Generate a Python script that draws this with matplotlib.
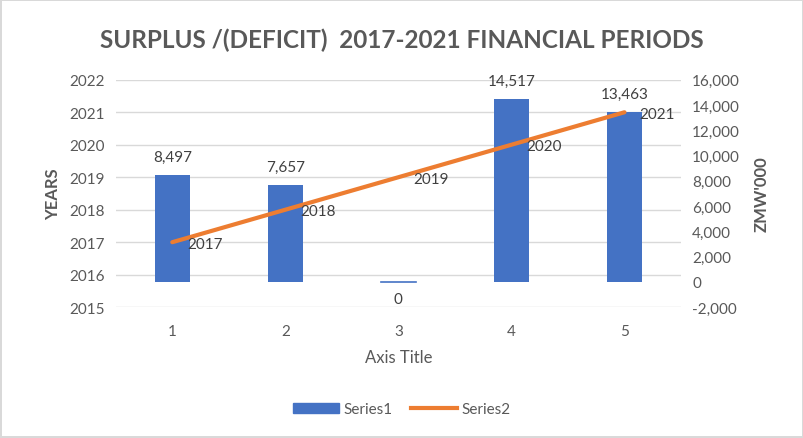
import matplotlib.pyplot as plt
from matplotlib.lines import Line2D
from matplotlib.patches import Patch

plt.rcParams['font.family'] = ['Lato', 'DejaVu Sans']

periods = [1, 2, 3, 4, 5]
surplus = [8497, 7657, 0, 14517, 13463]
years = [2017, 2018, 2019, 2020, 2021]

blue = '#4472C4'
orange = '#ED7D31'
grey = '#595959'

fig = plt.figure(figsize=(8.04, 4.39), dpi=100)
fig.patch.set_edgecolor('#D9D9D9')
fig.patch.set_linewidth(1.5)

ax = fig.add_axes([0.144, 0.298, 0.703, 0.518])
ax2 = ax.twinx()

# years line on the left axis
ax.set_ylim(2015, 2022)
ax.set_yticks(range(2015, 2023))
ax.set_xlim(0.5, 5.5)
ax.set_xticks(periods)
ax.grid(axis='y', color='#D9D9D9', linewidth=1)
ax.set_axisbelow(True)

# bars on the right axis
ax2.set_ylim(-2000, 16000)
ax2.set_yticks(range(-2000, 16001, 2000))
ax2.set_yticklabels(['{:,}'.format(v) for v in range(-2000, 16001, 2000)])
ax2.bar(periods, surplus, width=0.31, color=blue, zorder=2)
for p, v in zip(periods, surplus):
    if v == 0:
        ax2.plot([p - 0.155, p + 0.155], [v, v], color=blue, lw=1.2)
        ax2.annotate('0', (p, v), xytext=(0, -7), textcoords='offset points',
                     ha='center', va='top', fontsize=11, color='#404040')
    else:
        ax2.annotate('{:,}'.format(v), (p, v), xytext=(0, 8), textcoords='offset points',
                     ha='center', va='bottom', fontsize=11, color='#404040')

# put the line above the bars
ax3 = ax.twinx()
ax3.set_ylim(2015, 2022)
ax3.axis('off')
ax3.plot(periods, years, color=orange, lw=3, solid_capstyle='round')
for p, y in zip(periods, years):
    ax3.annotate(str(y), (p, y), xytext=(11, -1), textcoords='offset points',
                 ha='left', va='center', fontsize=11, color='#404040')

for a in (ax, ax2):
    for s in a.spines.values():
        s.set_visible(False)
    a.tick_params(length=0, labelsize=11, colors=grey, pad=8)
ax.tick_params(axis='x', pad=12)

ax.set_xlabel('Axis Title', fontsize=12, color=grey, labelpad=8)
ax.set_ylabel('YEARS', fontsize=12, color=grey, fontweight='bold', labelpad=6)
ax2.set_ylabel("ZMW'000", fontsize=12, color=grey, fontweight='bold',
               rotation=90, labelpad=10)

fig.suptitle('SURPLUS /(DEFICIT)  2017-2021 FINANCIAL PERIODS', fontsize=17.5,
             fontweight='bold', color=grey, x=0.5, y=0.935)

handles = [Patch(color=blue, label='Series1'),
           Line2D([0], [0], color=orange, lw=3, label='Series2')]
fig.legend(handles=handles, loc='center', bbox_to_anchor=(0.5, 0.065), ncol=2,
           frameon=False, fontsize=11, labelcolor=grey, handlelength=3,
           columnspacing=1.2, handletextpad=0.3)

fig.savefig('out.png', dpi=100, edgecolor=fig.get_edgecolor())
